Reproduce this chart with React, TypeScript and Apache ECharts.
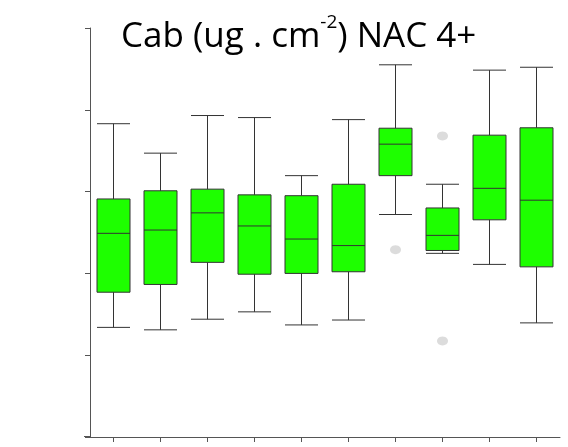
import React, { useEffect, useRef } from "react";
import * as echarts from "echarts";

const categories = ["1", "2", "3", "4", "5", "6", "7", "8", "9", "10"];
// [min, Q1, median, Q3, max]
const boxValues = [
  [13.4, 17.7, 24.9, 29.1, 38.3],
  [13.1, 18.65, 25.3, 30.1, 34.7],
  [14.4, 21.35, 27.4, 30.3, 39.3],
  [15.3, 19.9, 25.8, 29.6, 39.05],
  [13.7, 20.0, 24.2, 29.5, 31.95],
  [14.3, 20.2, 23.4, 30.9, 38.8],
  [27.2, 31.95, 35.8, 37.75, 45.5],
  [22.45, 22.8, 24.65, 28.0, 30.9],
  [21.1, 26.55, 30.4, 36.9, 44.85],
  [13.95, 20.8, 28.95, 37.8, 45.2],
];
const outliers = [
  [6, 22.9],
  [7, 36.8],
  [7, 11.75],
];
const yMin = 0;
const yMax = 50;
const yInterval = 10;

export default function App() {
  const ref = useRef<HTMLDivElement>(null);
  useEffect(() => {
    if (!ref.current) return;
    const chart = echarts.init(ref.current, undefined, { renderer: "svg" });
    chart.setOption({
      animation: false,
      title: {
        text: "{a|Cab (ug . cm}{sup|-2}{a|) NAC 4+}",
        left: 116,
        top: 6,
        textStyle: {
          fontWeight: "normal",
          rich: {
            a: { fontFamily: "Open Sans", fontWeight: "normal", fontSize: 35, color: "#000", lineHeight: 44 },
            sup: { fontFamily: "Open Sans", fontWeight: "normal", fontSize: 19, color: "#000", verticalAlign: "top", lineHeight: 44, padding: [0, 0, 16, 0] },
          },
        },
      },
      grid: { left: 90, right: 8, top: 28, bottom: 10 },
      xAxis: {
        type: "category",
        data: categories,
        boundaryGap: true,
        axisLine: { show: true, onZero: false, lineStyle: { color: "#555", width: 1 } },
        axisTick: { show: true, alignWithLabel: true, length: 5, lineStyle: { color: "#555", width: 1 } },
        axisLabel: { show: false },
        splitLine: { show: false },
      },
      yAxis: {
        type: "value",
        min: yMin,
        max: yMax,
        interval: yInterval,
        axisLine: { show: true, lineStyle: { color: "#555", width: 1 } },
        axisTick: { show: true, length: 5, lineStyle: { color: "#555" } },
        axisLabel: { show: false },
        splitLine: { show: false },
      },
      graphic: [
        {
          type: "line",
          shape: { x1: 84, y1: 436.5, x2: 90, y2: 436.5 },
          style: { stroke: "#555", lineWidth: 1 },
        },
      ],
      series: [
        {
          type: "boxplot",
          data: boxValues,
          boxWidth: [33, 33],
          itemStyle: { color: "#1eff00", borderColor: "#333", borderWidth: 1 },
        },
        {
          type: "scatter",
          data: outliers,
          symbol: "circle",
          symbolSize: [11, 9],
          itemStyle: { color: "#d3d3d3" },
        },
      ],
    });
    return () => chart.dispose();
  }, []);
  return (
    <div
      ref={ref}
      style={{ position: "fixed", left: 0, top: 0, width: 568, height: 447 }}
    />
  );
}
